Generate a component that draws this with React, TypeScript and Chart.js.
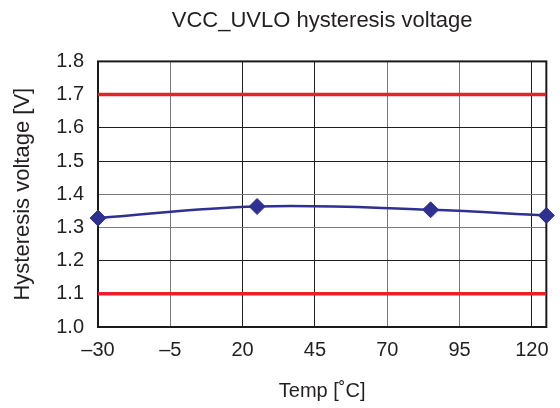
import React, { useEffect, useRef } from "react";
import { Chart, registerables } from "chart.js";

Chart.register(...registerables);

const titleText = "VCC_UVLO hysteresis voltage";
const xAxisLabel = "Temp [˚C]";
const yAxisLabel = "Hysteresis voltage [V]";

const temps = [-30, 25, 85, 125];
const hysteresis = [1.328, 1.363, 1.353, 1.336];

const upperLimit = 1.7;
const lowerLimit = 1.1;

const xMin = -30;
const xMax = 125;
const xTicks = [-30, -5, 20, 45, 70, 95, 120];
const yMin = 1.0;
const yMax = 1.8;
const yTicks = [1.0, 1.1, 1.2, 1.3, 1.4, 1.5, 1.6, 1.7, 1.8];

const FONT = "'Liberation Sans', Arial, Helvetica, sans-serif";
const TEXT = "#231f20";
const FS = 20;

const framePlugin = {
  id: "frame",
  beforeDatasetsDraw(chart: any) {
    const { ctx, chartArea } = chart;
    ctx.save();
    ctx.strokeStyle = "#1a1a1a";
    ctx.lineWidth = 2;
    ctx.strokeRect(chartArea.left, chartArea.top, chartArea.right - chartArea.left, chartArea.bottom - chartArea.top);
    ctx.restore();
  },
};

export default function App() {
  const ref = useRef<HTMLCanvasElement | null>(null);

  useEffect(() => {
    document.body.style.margin = "0";
    const canvas = ref.current;
    if (!canvas) return;
    const chart = new Chart(canvas, {
      type: "line",
      data: {
        datasets: [
          {
            label: "upper",
            data: [
              { x: xMin, y: upperLimit },
              { x: xMax, y: upperLimit },
            ],
            borderColor: "#e8202a",
            borderWidth: 3.5,
            pointRadius: 0,
            tension: 0,
          },
          {
            label: "lower",
            data: [
              { x: xMin, y: lowerLimit },
              { x: xMax, y: lowerLimit },
            ],
            borderColor: "#e8202a",
            borderWidth: 3.5,
            pointRadius: 0,
            tension: 0,
          },
          {
            label: "hysteresis",
            data: temps.map((t, i) => ({ x: t, y: hysteresis[i] })),
            borderColor: "#2e3192",
            backgroundColor: "#2e3192",
            borderWidth: 2.5,
            pointStyle: "rectRot",
            pointRadius: 8,
            pointBorderWidth: 1,
            tension: 0.4,
            clip: false as any,
          },
        ],
      },
      options: {
        animation: false,
        responsive: false,
        layout: { padding: { left: 0, right: 13, top: 0, bottom: 0 } },
        plugins: {
          legend: { display: false },
          tooltip: { enabled: false },
          title: {
            display: true,
            fullSize: false,
            text: titleText,
            color: TEXT,
            font: { family: FONT, size: 22, weight: "normal" },
            padding: { top: 8, bottom: 27 },
            align: "center",
          },
        },
        scales: {
          x: {
            type: "linear",
            min: xMin,
            max: xMax,
            afterBuildTicks: (scale: any) => {
              scale.ticks = xTicks.map((v) => ({ value: v }));
            },
            afterFit: (scale: any) => {
              scale.height = 81;
            },
            border: { display: false },
            grid: {
              drawTicks: false,
              color: (c: any) => ([20, 45, 120].includes(c.tick?.value) ? "#1e1e1e" : "#7a7a7a"),
              lineWidth: 1,
            },
            ticks: {
              color: TEXT,
              font: { family: FONT, size: FS },
              padding: 11,
              maxRotation: 0,
              autoSkip: false,
              callback: (v: any) => String(v).replace("-", "–"),
            },
            title: {
              display: true,
              text: xAxisLabel,
              color: TEXT,
              font: { family: FONT, size: FS },
              padding: { top: 0, bottom: 5 },
            },
          },
          y: {
            type: "linear",
            min: yMin,
            max: yMax,
            afterBuildTicks: (scale: any) => {
              scale.ticks = yTicks.map((v) => ({ value: v }));
            },
            afterFit: (scale: any) => {
              scale.width = 98;
            },
            border: { display: false },
            grid: {
              drawTicks: false,
              color: (c: any) => {
                const v = Math.round((c.tick?.value ?? 0) * 10) / 10;
                return [1.3, 1.4].includes(v) ? "#7a7a7a" : "#1e1e1e";
              },
              lineWidth: 1,
            },
            ticks: {
              color: TEXT,
              font: { family: FONT, size: FS },
              padding: 14,
              autoSkip: false,
              callback: (v: any) => Number(v).toFixed(1),
            },
            title: {
              display: true,
              text: yAxisLabel,
              color: TEXT,
              font: { family: FONT, size: 22 },
              padding: { top: 10, bottom: 0 },
            },
          },
        },
      },
      plugins: [framePlugin],
    });
    return () => chart.destroy();
  }, []);

  return (
    <div style={{ width: 560, height: 408, background: "#fff" }}>
      <canvas ref={ref} width={560} height={408} />
    </div>
  );
}
